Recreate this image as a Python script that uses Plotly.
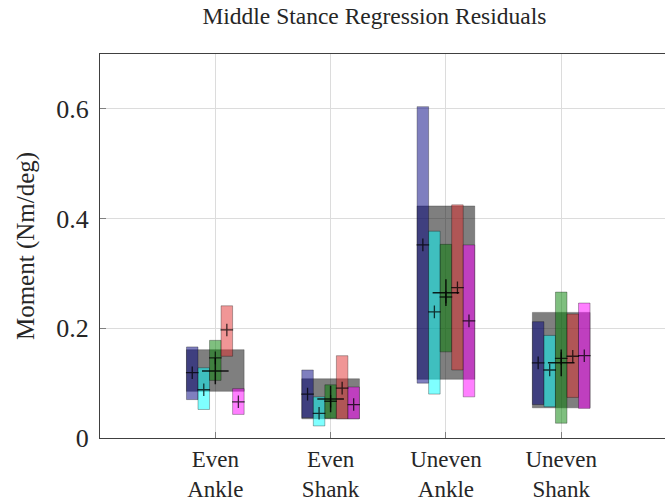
import plotly.graph_objects as go

categories = ["Even<br>Ankle", "Even<br>Shank", "Uneven<br>Ankle", "Uneven<br>Shank"]
cat_pos = [1, 2, 3, 4]

# overall (grey) box per category
all_low = [0.085, 0.035, 0.107, 0.055]
all_high = [0.161, 0.108, 0.423, 0.229]
all_mean = [0.122, 0.071, 0.265, 0.137]

# per-subject series: low, high, mean
series_names = ["S1", "S2", "S3", "S4", "S5"]
series_colors = ["rgba(0,0,128,0.5)", "rgba(0,255,255,0.5)", "rgba(0,128,0,0.5)",
                 "rgba(225,45,45,0.5)", "rgba(255,0,255,0.5)"]
s1_low = [0.070, 0.037, 0.100, 0.061]
s1_high = [0.166, 0.124, 0.604, 0.212]
s1_mean = [0.119, 0.080, 0.352, 0.137]
s2_low = [0.052, 0.022, 0.080, 0.057]
s2_high = [0.128, 0.075, 0.377, 0.187]
s2_mean = [0.088, 0.045, 0.230, 0.124]
s3_low = [0.105, 0.036, 0.157, 0.027]
s3_high = [0.178, 0.097, 0.353, 0.266]
s3_mean = [0.146, 0.067, 0.257, 0.145]
s4_low = [0.149, 0.035, 0.124, 0.074]
s4_high = [0.241, 0.150, 0.425, 0.226]
s4_mean = [0.197, 0.091, 0.274, 0.149]
s5_low = [0.043, 0.035, 0.075, 0.054]
s5_high = [0.090, 0.093, 0.352, 0.246]
s5_mean = [0.066, 0.061, 0.2135, 0.150]

lows = [s1_low, s2_low, s3_low, s4_low, s5_low]
highs = [s1_high, s2_high, s3_high, s4_high, s5_high]
means = [s1_mean, s2_mean, s3_mean, s4_mean, s5_mean]
offsets = [-0.2, -0.1, 0.0, 0.1, 0.2]

font_family = "Liberation Serif, Times New Roman, serif"
txt = "#262626"

fig = go.Figure()

fig.add_trace(go.Bar(
    x=cat_pos, base=all_low, y=[h - l for h, l in zip(all_high, all_low)],
    width=0.5, marker=dict(color="rgba(0,0,0,0.5)", line=dict(color="rgba(0,0,0,0.25)", width=1)),
    showlegend=False, hoverinfo="skip"))

for i in range(5):
    xs = [c + offsets[i] for c in cat_pos]
    fig.add_trace(go.Bar(
        x=xs, base=lows[i], y=[h - l for h, l in zip(highs[i], lows[i])],
        width=0.1, marker=dict(color=series_colors[i], line=dict(color="rgba(0,0,0,0.3)", width=1)),
        showlegend=False, name=series_names[i], hoverinfo="skip"))

for i in range(5):
    xs = [c + offsets[i] for c in cat_pos]
    fig.add_trace(go.Scatter(
        x=xs, y=means[i], mode="markers",
        marker=dict(symbol="cross-thin", size=9, line=dict(color="rgba(0,0,0,0.75)", width=1.3)),
        showlegend=False, hoverinfo="skip"))

fig.add_trace(go.Scatter(
    x=cat_pos, y=all_mean, mode="markers",
    marker=dict(symbol="cross-thin", size=19, line=dict(color="rgba(0,0,0,0.85)", width=1.5)),
    showlegend=False, hoverinfo="skip"))

fig.update_layout(
    width=665, height=503,
    margin=dict(l=100, r=0, t=54, b=65, autoexpand=False),
    paper_bgcolor="white", plot_bgcolor="white",
    barmode="overlay",
    font=dict(family=font_family, color=txt),
    title=dict(text="Middle Stance Regression Residuals", x=0.563, xanchor="center",
               y=0.968, yanchor="middle", font=dict(size=23.5, family=font_family, color=txt)),
    xaxis=dict(range=[0, 4.9], tickvals=cat_pos, ticktext=categories, automargin=False,
               showgrid=True, gridcolor="#dcdcdc", gridwidth=1,
               showline=True, linecolor="#404040", linewidth=1, mirror=True,
               ticks="inside", ticklen=6, tickcolor="#808080", ticklabelstandoff=0,
               tickfont=dict(size=23, family=font_family, color=txt), zeroline=False),
    yaxis=dict(range=[0, 0.7], tickvals=[0, 0.2, 0.4, 0.6], ticktext=["0", "0.2", "0.4", "0.6"],
               automargin=False,
               showgrid=True, gridcolor="#dcdcdc", gridwidth=1,
               showline=True, linecolor="#404040", linewidth=1, mirror=False,
               ticks="inside", ticklen=6, tickcolor="#808080", ticklabelstandoff=5,
               tickfont=dict(size=26, family=font_family, color=txt), zeroline=False,
               title=dict(text="Moment (Nm/deg)", font=dict(size=25, family=font_family, color=txt), standoff=14)),
)

fig.write_html("out.html")
